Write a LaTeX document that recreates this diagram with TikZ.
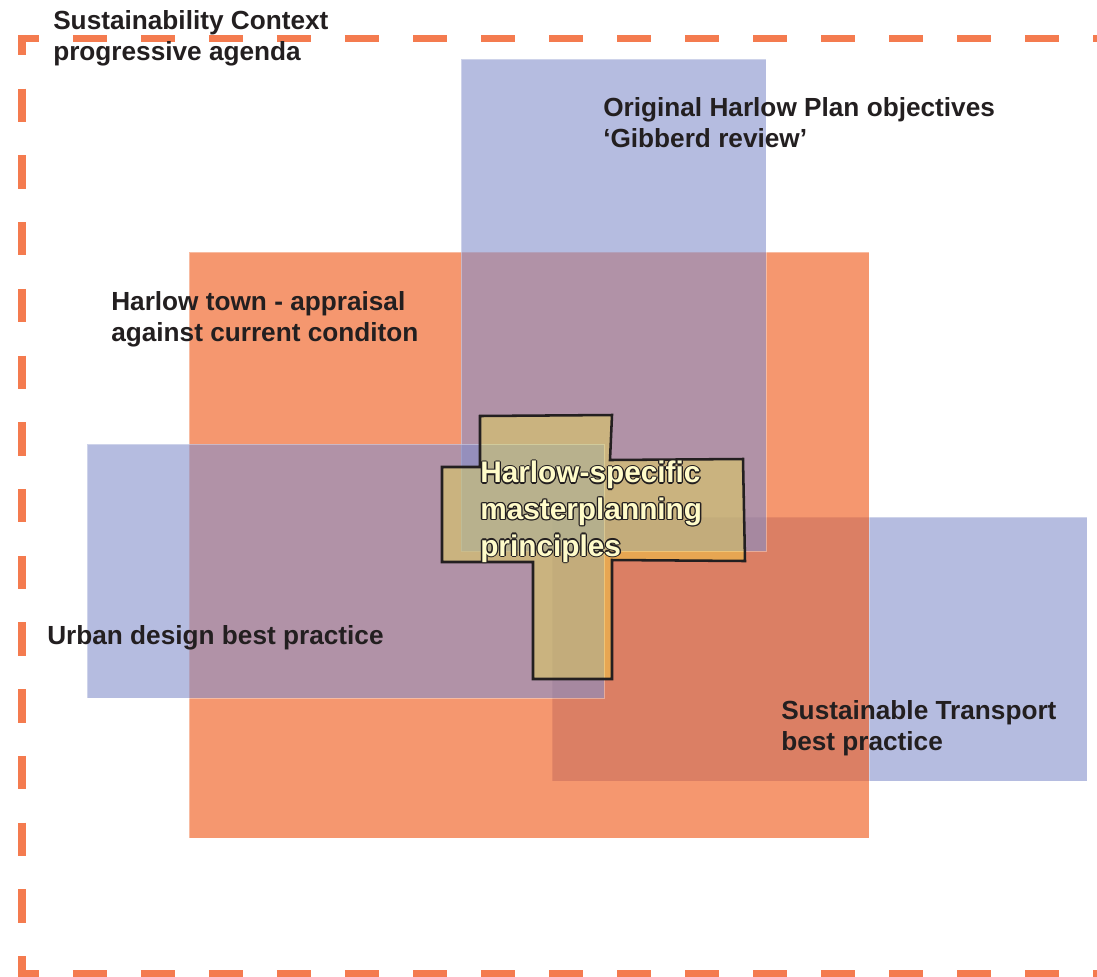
\documentclass[tikz,border=0pt]{standalone}
\usepackage{fontspec}
\setmainfont{Liberation Sans}
\definecolor{agenda}{HTML}{F47B4F}
\definecolor{planblue}{RGB}{132,143,203}
\definecolor{townorange}{RGB}{240,95,34}
\definecolor{crossyellow}{RGB}{255,248,48}
\definecolor{inkgrey}{HTML}{231F20}
\definecolor{paleyellow}{HTML}{FFFBC9}

\begin{document}
\begin{tikzpicture}[x=0.75pt,y=-0.75pt]
\tikzset{
  bluezone/.style={fill=planblue,fill opacity=0.6,draw=white,draw opacity=0.35,line width=0.6pt},
  orangezone/.style={fill=townorange,fill opacity=0.65,draw=white,draw opacity=0.35,line width=0.6pt},
  border/.style={draw=agenda,line width=5.6pt},
  zonetext/.style={text=inkgrey,font=\bfseries\fontsize{19.65}{23.25}\selectfont,align=left,anchor=base west,inner sep=0pt},
  crosstext/.style={font=\bfseries\fontsize{22.35}{27.4}\selectfont,align=left,anchor=base west,inner sep=0pt}
}
\useasboundingbox (0,0) rectangle (1097,976);
\clip (0,0) rectangle (1097,976);

% overlapping zones, bottom one first
\path[bluezone] (552,517) rectangle (1087,781);
\path[orangezone] (189,252) rectangle (869,838);
\path[bluezone] (461,59) rectangle (766,551);
\path[bluezone] (87,444) rectangle (604,698);

% the cross where everything meets
\fill[crossyellow,fill opacity=0.33] (480,416) -- (612,415) -- (610,460) -- (743,459) -- (745,561)
  -- (612,560) -- (612,679) -- (533,679) -- (533,562) -- (442,562) -- (442,467) -- (480,467) -- cycle;
\draw[inkgrey,line width=1.9pt,line join=miter] (480,416) -- (612,415) -- (610,460) -- (743,459) -- (745,561)
  -- (612,560) -- (612,679) -- (533,679) -- (533,562) -- (442,562) -- (442,467) -- (480,467) -- cycle;

% dashed frame, open on the right
\draw[border,dash pattern=on 25.05pt off 25pt,dash phase=9.65pt] (22,34.75) -- (22,978);
\draw[border,dash pattern=on 25.5pt off 25.5pt,dash phase=9.94pt] (18.25,38.5) -- (1100,38.5);
\draw[border,dash pattern=on 25.5pt off 25.5pt,dash phase=9.94pt] (18.25,973.5) -- (1100,973.5);

% labels sit on the baseline of their last line
\node[zonetext] (context) at (53,60) {Sustainability Context\\progressive agenda};
\node[zonetext] (gibberd) at (603,147) {Original Harlow Plan objectives\\‘Gibberd review’};
\node[zonetext] (appraisal) at (111,341) {Harlow town - appraisal\\against current conditon};
\node[zonetext] (urban) at (47,644) {Urban design best practice};
\node[zonetext] (transport) at (781,750) {Sustainable Transport\\best practice};

% outlined title inside the cross
\foreach \dx/\dy in {1.3/0,-1.3/0,0/1.3,0/-1.3,0.9/0.9,0.9/-0.9,-0.9/0.9,-0.9/-0.9}
  \node[crosstext,text=inkgrey] at (480+\dx,556+\dy) {Harlow-specific\\masterplanning\\principles};
\node[crosstext,text=paleyellow] (principles) at (480,556) {Harlow-specific\\masterplanning\\principles};
\end{tikzpicture}
\end{document}
